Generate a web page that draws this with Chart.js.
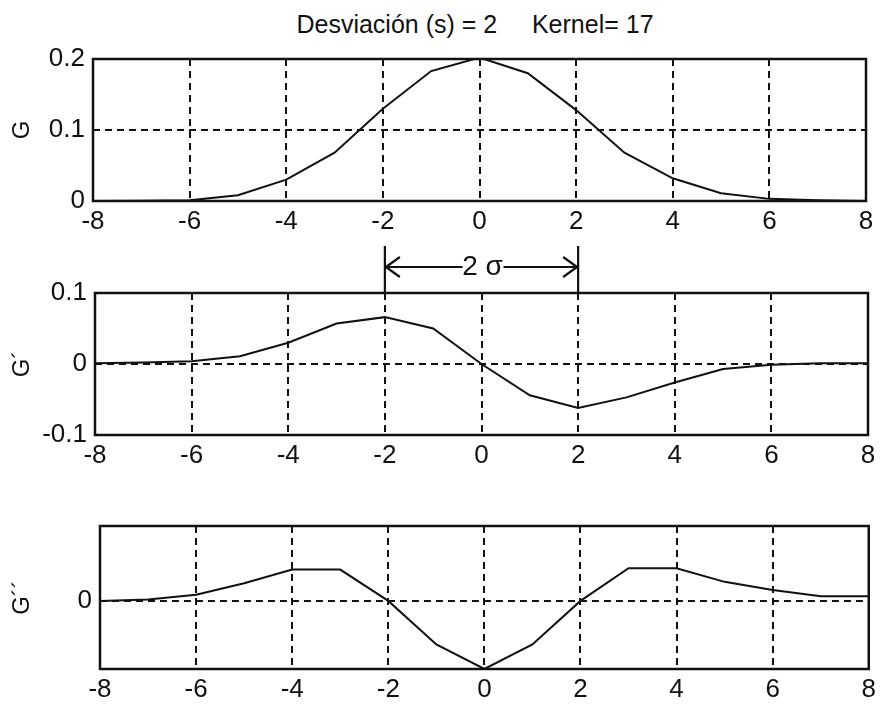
<!DOCTYPE html>
<html><head><meta charset="utf-8">
<script src="https://cdn.jsdelivr.net/npm/chart.js@4"></script>
<style>
body{margin:0;background:#fff;width:881px;height:707px;position:relative;overflow:hidden;}
.c{position:absolute;left:0;width:881px;}
#title{position:absolute;top:10px;left:0;width:950px;text-align:center;font:25px 'Liberation Sans Narrow','Liberation Sans',Arial,sans-serif;color:#111;white-space:pre;}
</style></head><body>
<div id="title">Desviación (s) = 2     Kernel= 17</div>
<div class="c" style="top:0;height:240px"><canvas id="c1" width="881" height="240"></canvas></div>
<div class="c" style="top:240px;height:240px"><canvas id="c2" width="881" height="240"></canvas></div>
<div class="c" style="top:480px;height:227px"><canvas id="c3" width="881" height="227"></canvas></div>
<script>
// ---- data ----
const xValues  = [-8,-7,-6,-5,-4,-3,-2,-1,0,1,2,3,4,5,6,7,8];
const gValues  = [0.000,0.0005,0.001,0.008,0.030,0.068,0.130,0.183,0.202,0.180,0.128,0.068,0.032,0.011,0.003,0.001,0.000];
const g1Values = [0.001,0.002,0.004,0.011,0.030,0.057,0.066,0.050,0.000,-0.044,-0.062,-0.047,-0.026,-0.007,-0.001,0.001,0.001];
const g2Values = [0.000,0.001,0.0045,0.013,0.023,0.023,0.000,-0.032,-0.050,-0.032,0.000,0.024,0.024,0.014,0.008,0.0035,0.0035];
const xTicks   = [-8,-6,-4,-2,0,2,4,6,8];
const yTicksG  = [0,0.1,0.2];
const yTicksG1 = [-0.1,0,0.1];
const yTicksG2 = [0];
const yLabels  = ['G','G´','G´´'];

const FONT = "'Liberation Sans Narrow','Liberation Sans',Arial,sans-serif";
Chart.defaults.color = '#111';

const boxPlugin = {id:'box', afterDraw(chart){
  const {ctx, chartArea:a} = chart;
  ctx.save(); ctx.lineWidth = 2.5; ctx.strokeStyle = '#111';
  ctx.strokeRect(a.left, a.top, a.right-a.left, a.bottom-a.top);
  ctx.restore();
}};

const sigmaPlugin = {id:'sigma', afterDraw(chart){
  const {ctx, chartArea:a} = chart;
  const xs = chart.scales.x;
  const x1 = xs.getPixelForValue(-2), x2 = xs.getPixelForValue(2);
  const mid = (x1+x2)/2, yA = a.top - 26, yT = a.top - 47;
  ctx.save();
  ctx.strokeStyle = '#111'; ctx.lineWidth = 2.2;
  ctx.beginPath();
  ctx.moveTo(x1, yT); ctx.lineTo(x1, a.top);
  ctx.moveTo(x2, yT); ctx.lineTo(x2, a.top);
  ctx.moveTo(x1, yA); ctx.lineTo(mid-19, yA);
  ctx.moveTo(mid+22, yA); ctx.lineTo(x2, yA);
  ctx.moveTo(x1+15, yA-10); ctx.lineTo(x1+1, yA); ctx.lineTo(x1+15, yA+10);
  ctx.moveTo(x2-15, yA-10); ctx.lineTo(x2-1, yA); ctx.lineTo(x2-15, yA+10);
  ctx.stroke();
  ctx.fillStyle = '#111';
  ctx.font = "28px 'Liberation Sans Narrow','Liberation Sans',Arial,sans-serif";
  ctx.textAlign = 'center'; ctx.textBaseline = 'middle';
  ctx.fillText('2 σ', mid+1, yA);
  ctx.restore();
}};

function makeChart(id, values, yMin, yMax, yTicks, yLabel, left, right, top, bottom, canvasH, extra){
  return new Chart(document.getElementById(id), {
    type:'line',
    data:{datasets:[{data: xValues.map((x,i)=>({x:x, y:values[i]})),
      borderColor:'#111', borderWidth:2, pointRadius:0, tension:0, fill:false}]},
    options:{
      responsive:false, animation:false,
      layout:{padding:{top:top, right:881-right, left:0, bottom:0}},
      plugins:{legend:{display:false}, tooltip:{enabled:false}},
      scales:{
        x:{type:'linear', min:-8, max:8,
          afterBuildTicks(ax){ ax.ticks = xTicks.map(v=>({value:v})); },
          afterFit(ax){ ax.height = canvasH - bottom; },
          grid:{color:'#111', lineWidth:2, drawTicks:false},
          border:{display:false, dash:[7,5]},
          ticks:{padding:5, font:{family:FONT, size:26}, color:'#111', maxRotation:0}
        },
        y:{type:'linear', min:yMin, max:yMax,
          afterBuildTicks(ax){ ax.ticks = yTicks.map(v=>({value:v})); },
          afterFit(ax){ ax.width = left; },
          grid:{color:'#111', lineWidth:2, drawTicks:false},
          border:{display:false, dash:[7,5]},
          ticks:{padding:8, font:{family:FONT, size:26}, color:'#111',
            callback:(v)=> (Math.abs(v)<1e-9 ? '0' : String(Math.round(v*10)/10))},
          title:{display:true, text:yLabel, font:{family:FONT, size:24}, color:'#111', padding:{top:8, bottom:0}}
        }
      }
    },
    plugins: extra ? [boxPlugin, extra] : [boxPlugin]
  });
}

makeChart('c1', gValues, 0, 0.2, yTicksG, yLabels[0], 93, 866, 59, 201, 240);
makeChart('c2', g1Values, -0.1, 0.1, yTicksG1, yLabels[1], 95, 868, 53, 195, 240, sigmaPlugin);
makeChart('c3', g2Values, -0.05, 0.055, yTicksG2, yLabels[2], 100, 871, 46, 189, 227);
</script>
</body></html>
